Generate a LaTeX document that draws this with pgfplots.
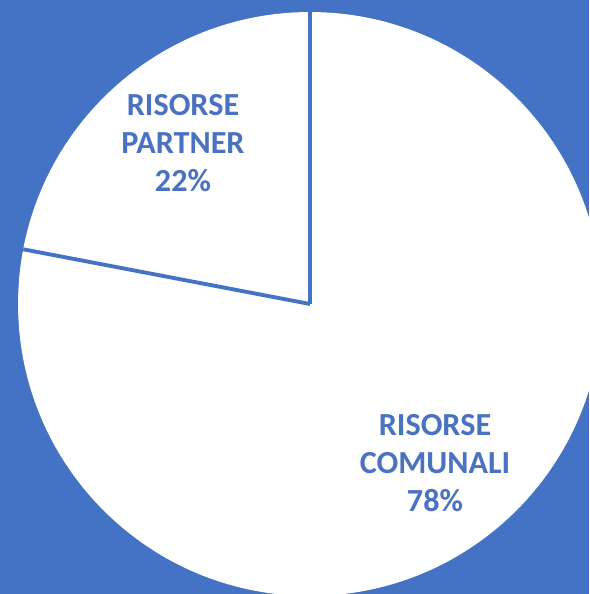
\documentclass[border=0pt]{standalone}
\usepackage{pgfplots}
\pgfplotsset{compat=1.18}
\usepackage{pgfplotstable}
\usepackage{fontspec}
\setmainfont{Carlito}
\definecolor{bg}{HTML}{4472C4}
\definecolor{lab}{HTML}{4A72C0}

% shares in percent
\pgfplotstableread{
name value
partner 22
comunali 78
}\shares

\begin{document}
\begin{tikzpicture}
\pgfplotstablegetelem{0}{value}\of\shares \let\vpartner\pgfplotsretval
\pgfplotstablegetelem{1}{value}\of\shares \let\vcomunali\pgfplotsretval
\pgfmathsetmacro\angsplit{90+3.6*\vpartner}
\begin{axis}[
    x=0.02cm, y=0.02cm,
    xmin=0, xmax=589, ymin=0, ymax=594,
    hide axis, clip=true,
  ]
  \fill[bg] (axis cs:0,0) rectangle (axis cs:589,594);
  % pie
  \fill[white] (axis cs:310,290) circle[radius=5.84cm];
  \draw[bg, line width=2.2pt] (axis cs:310,290) -- ++(90:5.84cm);
  \draw[bg, line width=2.2pt] (axis cs:310,290) -- ++(\angsplit:5.84cm);
  \node[align=center, text=lab, font=\bfseries\fontsize{18.3}{21.5}\selectfont]
    at (axis cs:183,451) {RISORSE\\PARTNER\\\vpartner\%};
  \node[align=center, text=lab, font=\bfseries\fontsize{18.3}{21.5}\selectfont]
    at (axis cs:435,131) {RISORSE\\COMUNALI\\\vcomunali\%};
\end{axis}
\end{tikzpicture}
\end{document}
